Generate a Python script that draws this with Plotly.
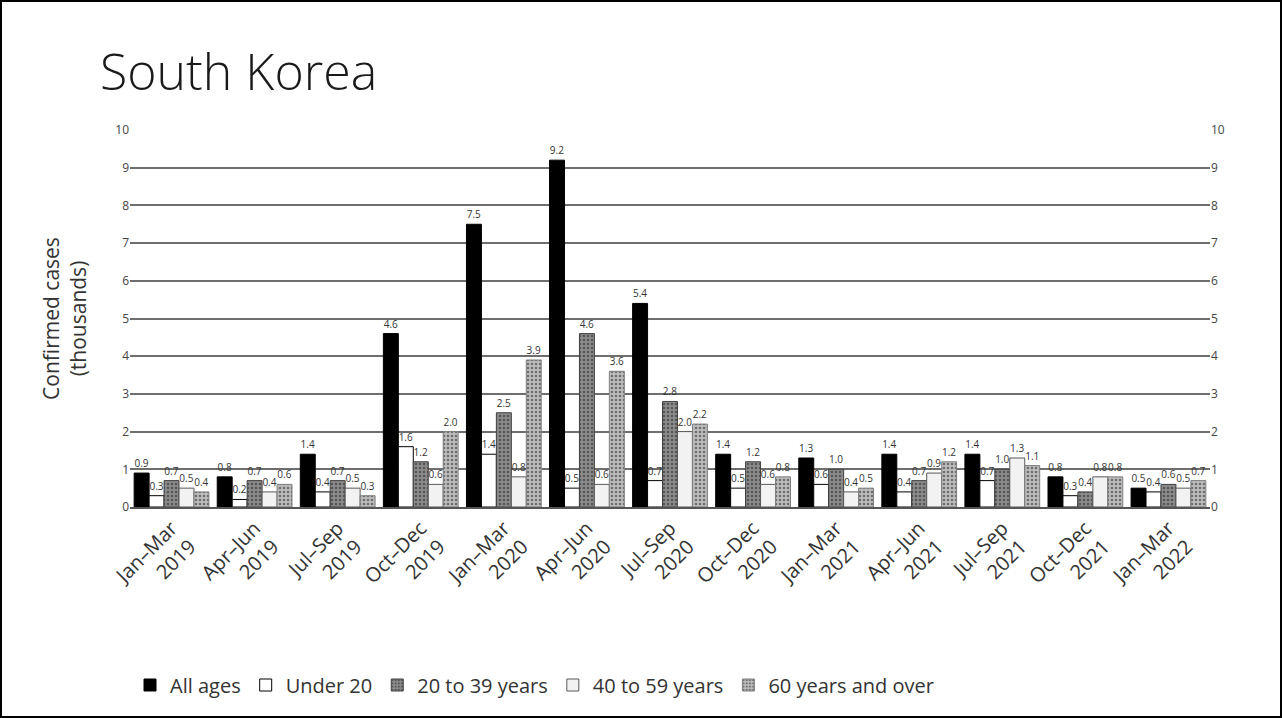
import plotly.graph_objects as go

# Quarterly periods shown along the x axis
periods = [
    "Jan–Mar<br>2019", "Apr–Jun<br>2019", "Jul–Sep<br>2019", "Oct–Dec<br>2019",
    "Jan–Mar<br>2020", "Apr–Jun<br>2020", "Jul–Sep<br>2020", "Oct–Dec<br>2020",
    "Jan–Mar<br>2021", "Apr–Jun<br>2021", "Jul–Sep<br>2021", "Oct–Dec<br>2021",
    "Jan–Mar<br>2022",
]

series_names = ["All ages", "Under 20", "20 to 39 years", "40 to 59 years", "60 years and over"]

all_ages = [0.9, 0.8, 1.4, 4.6, 7.5, 9.2, 5.4, 1.4, 1.3, 1.4, 1.4, 0.8, 0.5]
under_20 = [0.3, 0.2, 0.4, 1.6, 1.4, 0.5, 0.7, 0.5, 0.6, 0.4, 0.7, 0.3, 0.4]
age_20_39 = [0.7, 0.7, 0.7, 1.2, 2.5, 4.6, 2.8, 1.2, 1.0, 0.7, 1.0, 0.4, 0.6]
age_40_59 = [0.5, 0.4, 0.5, 0.6, 0.8, 0.6, 2.0, 0.6, 0.4, 0.9, 1.3, 0.8, 0.5]
age_60_up = [0.4, 0.6, 0.3, 2.0, 3.9, 3.6, 2.2, 0.8, 0.5, 1.2, 1.1, 0.8, 0.7]

y_ticks = list(range(0, 11))

values = [all_ages, under_20, age_20_39, age_40_59, age_60_up]

fills = ["#000000", "#ffffff", "#8c8c8c", "#f2f2f2", "#bdbdbd"]
outlines = ["#000000", "#000000", "#404040", "#595959", "#7f7f7f"]
patterns = ["", "", ".", "", "."]

fig = go.Figure()
for name, vals, fc, lc, pat in zip(series_names, values, fills, outlines, patterns):
    fig.add_trace(go.Bar(
        name=name,
        x=periods,
        y=vals,
        marker=dict(
            color=fc,
            line=dict(color=lc, width=1),
            pattern=dict(shape=pat, fgcolor="#202020", size=4, solidity=0.35),
        ),
        texttemplate="%{y:.1f}",
        textposition="outside",
        textfont=dict(size=10, color="#333333"),
        cliponaxis=False,
    ))

# mirrored value scale on the right-hand side
fig.add_trace(go.Scatter(x=[], y=[], yaxis="y2", showlegend=False, hoverinfo="skip"))

W, H = 1282, 718
ML, MR, MT, MB = 130, 72, 130, 211
pw, ph = W - ML - MR, H - MT - MB

fig.update_layout(
    width=W, height=H,
    margin=dict(l=ML, r=MR, t=MT, b=MB),
    paper_bgcolor="white",
    plot_bgcolor="white",
    font=dict(family="Open Sans, Lato, sans-serif", color="#333333"),
    title=dict(
        text="South Korea",
        x=100 / W, xref="container", xanchor="left",
        y=1 - 72 / H, yref="container", yanchor="middle",
        font=dict(size=50, color="#1a1a1a", weight=300),
    ),
    barmode="group",
    bargap=0.1,
    bargroupgap=0.0,
    xaxis=dict(
        tickangle=-45,
        tickfont=dict(size=20, color="#333333"),
        showline=True, linecolor="#555555", linewidth=1.5,
        ticks="",
        automargin=False,
    ),
    yaxis=dict(
        range=[0, 10],
        tickvals=y_ticks,
        tickfont=dict(size=12, color="#444444"),
        showgrid=True, gridcolor="#6e6e6e", gridwidth=2,
        zeroline=False,
        automargin=False,
        title=dict(text="Confirmed cases<br>(thousands)", font=dict(size=21, color="#333333"), standoff=22),
    ),
    yaxis2=dict(
        range=[0, 10],
        tickvals=y_ticks,
        overlaying="y",
        side="right",
        showgrid=False,
        zeroline=False,
        automargin=False,
        tickfont=dict(size=12, color="#444444"),
    ),
    legend=dict(
        orientation="h",
        x=0, xanchor="left",
        y=-(685 - (H - MB)) / ph, yanchor="middle",
        font=dict(size=20, color="#333333"),
        itemwidth=30,
        traceorder="normal",
    ),
    shapes=[dict(
        type="rect", xref="paper", yref="paper",
        x0=-(ML - 1) / pw, x1=1 + (MR - 1) / pw,
        y0=-(MB - 1) / ph, y1=1 + (MT - 1) / ph,
        line=dict(color="#000000", width=2),
        fillcolor="rgba(0,0,0,0)",
        layer="above",
    )],
)

fig.write_html("out.html")
